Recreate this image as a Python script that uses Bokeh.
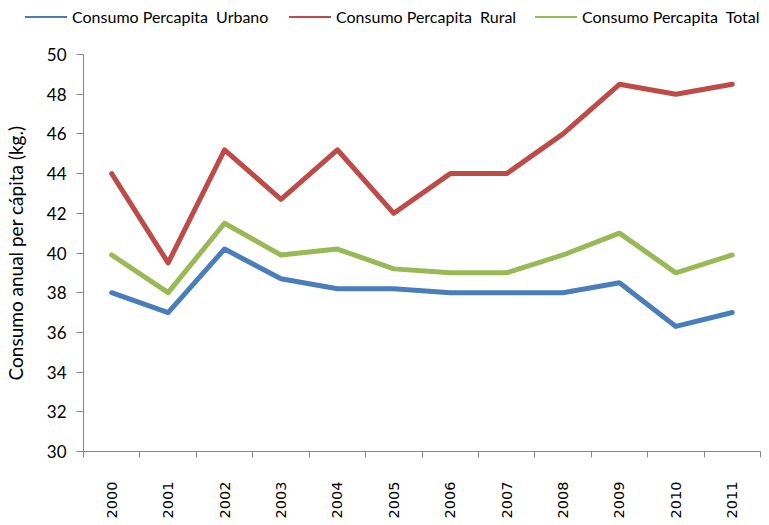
import math
from bokeh.plotting import figure
from bokeh.layouts import column
from bokeh.models import Range1d, FixedTicker, Div
from bokeh.embed import file_html
from bokeh.resources import INLINE

years = ["2000", "2001", "2002", "2003", "2004", "2005", "2006", "2007", "2008", "2009", "2010", "2011"]
urbano = [38.0, 37.0, 40.2, 38.7, 38.2, 38.2, 38.0, 38.0, 38.0, 38.5, 36.3, 37.0]
rural = [44.0, 39.5, 45.2, 42.7, 45.2, 42.0, 44.0, 44.0, 46.0, 48.5, 48.0, 48.5]
total = [39.9, 38.0, 41.5, 39.9, 40.2, 39.2, 39.0, 39.0, 39.9, 41.0, 39.0, 39.9]
series_names = ["Consumo Percapita  Urbano", "Consumo Percapita  Rural", "Consumo Percapita  Total"]
colors = ["#4A7EBB", "#BE4B48", "#98B954"]
y_ticks = [30, 32, 34, 36, 38, 40, 42, 44, 46, 48, 50]

xs = [i + 0.5 for i in range(len(years))]

# legend strip (HTML text, positioned like the reference legend)
legend_left = [25, 289, 535]
parts = []
for name, c, left in zip(series_names, colors, legend_left):
    parts.append('<span style="position:absolute;left:%dpx;top:16px;width:42px;height:0;'
                 'border-top:2.5px solid %s"></span>' % (left, c))
    parts.append('<span style="position:absolute;left:%dpx;top:7px;line-height:20px;'
                 'white-space:pre">%s</span>' % (left + 47, name))
html = ('<div style="position:relative;width:761px;height:34px;font-family:Lato;'
        'font-size:16px;color:black;">' + "".join(parts) + '</div>')
lg = Div(text=html, width=761, height=34, margin=0)

p = figure(width=761, height=487, output_backend="svg", toolbar_location=None,
           x_range=Range1d(0, len(years)), y_range=Range1d(30, 50),
           min_border_left=80, min_border_right=1, min_border_top=20, min_border_bottom=70)
p.outline_line_color = None
p.xgrid.visible = False
p.ygrid.visible = False
p.background_fill_color = "white"

for vals, c in zip([urbano, rural, total], colors):
    p.line(x=xs, y=vals, line_color=c, line_width=5, line_join="round", line_cap="round")

xa = p.xaxis[0]
xa.ticker = FixedTicker(ticks=xs, minor_ticks=list(range(len(years) + 1)))
xa.major_label_overrides = {x: y for x, y in zip(xs, years)}
xa.major_label_orientation = math.pi / 2
xa.major_tick_out = 0
xa.major_tick_in = 0
xa.minor_tick_out = 6
xa.minor_tick_in = 0
xa.minor_tick_line_color = "#868686"
xa.axis_line_color = "#868686"
xa.major_label_standoff = 24
xa.major_label_text_font = "DejaVu Sans"
xa.major_label_text_font_size = "14.5px"
xa.major_label_text_color = "black"

ya = p.yaxis[0]
ya.ticker = FixedTicker(ticks=y_ticks, minor_ticks=[])
ya.axis_line_color = "#868686"
ya.major_tick_line_color = "#868686"
ya.major_tick_out = 7
ya.major_tick_in = 0
ya.major_label_standoff = 10
ya.major_label_text_font = "Lato"
ya.major_label_text_font_size = "17px"
ya.major_label_text_color = "black"
ya.axis_label = "Consumo anual per cápita (kg.)"
ya.axis_label_text_font = "Lato"
ya.axis_label_text_font_size = "19px"
ya.axis_label_text_font_style = "normal"
ya.axis_label_text_color = "black"
ya.axis_label_standoff = 17

layout = column(lg, p, spacing=0)
open("out.html", "w").write(file_html(layout, INLINE))
